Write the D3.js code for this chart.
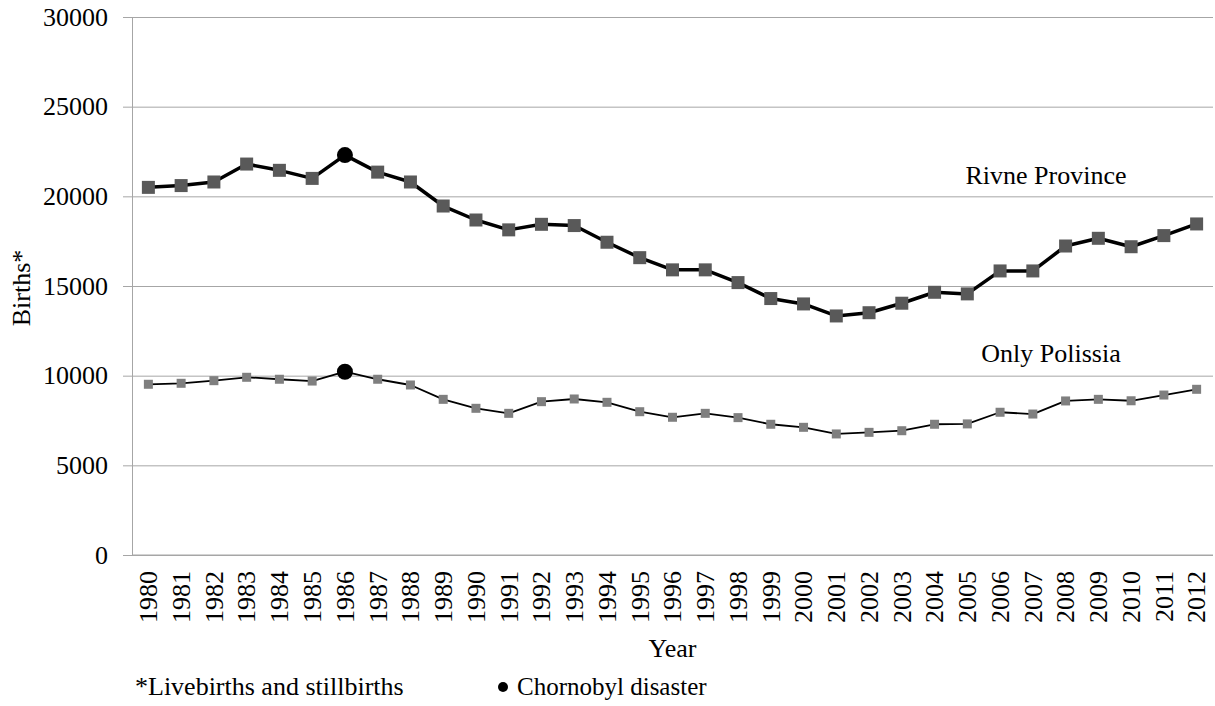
<!DOCTYPE html>
<html>
<head>
<meta charset="utf-8">
<script src="https://cdn.jsdelivr.net/npm/d3@7"></script>
<style>
    body { margin: 0; background: #fff; }
    svg text { font-family: "Liberation Serif", "Times New Roman", "DejaVu Serif", serif; }
</style>
</head>
<body>
<div id="chart"></div>
<script>
// data
const years = d3.range(1980, 2013).map(String)
const rivne = [20500, 20600, 20800, 21800, 21450, 21000, 22300, 21350, 20800, 19460,
    18680, 18130, 18440, 18370, 17440, 16580, 15900, 15900, 15190, 14300,
    14000, 13330, 13510, 14040, 14650, 14560, 15840, 15840, 17230, 17660,
    17190, 17810, 18460]
const polissia = [9520, 9575, 9720, 9910, 9800, 9700, 10220, 9800, 9480, 8680,
    8180, 7900, 8550, 8700, 8515, 7990, 7680, 7900, 7660, 7290,
    7120, 6750, 6840, 6930, 7290, 7310, 7960, 7860, 8590, 8680,
    8600, 8920, 9240]
const yTicks = [0, 5000, 10000, 15000, 20000, 25000, 30000]
const disasterYear = '1986'

const width = 1215
const height = 706
const margin = { top: 17, right: 2, bottom: 151, left: 132 }
const gridColor = '#a6a6a6'
const serif = '"Liberation Serif", "Times New Roman", serif'
const fontSize = 26

const svg = d3.select('#chart')
    .append('svg')
    .attr('width', width)
    .attr('height', height)
    .attr('font-family', serif)

// scales
const x = d3.scaleBand()
    .domain(years)
    .range([margin.left, width - margin.right])

const y = d3.scaleLinear()
    .domain([0, 30000])
    .range([height - margin.bottom, margin.top])

const cx = (d) => x(d) + x.bandwidth() / 2

// gridlines + y axis
const yAxis = d3.axisLeft(y)
    .tickValues(yTicks)
    .tickFormat(d3.format('d'))
    .tickSize(-(width - margin.right - margin.left))
    .tickSizeOuter(0)

svg.append('g')
    .attr('transform', `translate(${margin.left},0)`)
    .call(yAxis)
    .attr('font-family', serif)
    .attr('font-size', fontSize)
    .call((g) => g.select('.domain').attr('stroke', gridColor))
    .call((g) => g.selectAll('.tick line')
        .attr('stroke', gridColor)
        .attr('x1', -9))
    .call((g) => g.selectAll('.tick text')
        .attr('x', -24)
        .attr('fill', '#000'))

// x axis line and rotated year labels
svg.append('line')
    .attr('x1', margin.left)
    .attr('x2', width - margin.right)
    .attr('y1', y(0))
    .attr('y2', y(0))
    .attr('stroke', gridColor)

svg.append('g')
    .attr('font-size', fontSize)
    .selectAll('text')
    .data(years)
    .enter()
    .append('text')
    .attr('transform', (d) => `translate(${cx(d)},${y(0) + 16}) rotate(-90)`)
    .attr('text-anchor', 'end')
    .attr('dy', '0.34em')
    .text((d) => d)

// series
function drawSeries(values, lineWidth, size, fill) {
    const line = d3.line()
        .x((d, i) => cx(years[i]))
        .y((d) => y(d))

    svg.append('path')
        .datum(values)
        .attr('fill', 'none')
        .attr('stroke', '#000')
        .attr('stroke-width', lineWidth)
        .attr('stroke-linejoin', 'round')
        .attr('d', line)

    const pts = values.map((v, i) => ({ year: years[i], v }))

    svg.append('g')
        .selectAll('rect')
        .data(pts.filter((d) => d.year !== disasterYear))
        .enter()
        .append('rect')
        .attr('x', (d) => cx(d.year) - size / 2)
        .attr('y', (d) => y(d.v) - size / 2)
        .attr('width', size)
        .attr('height', size)
        .attr('fill', fill)

    // the 1986 point is the Chornobyl marker
    svg.append('g')
        .selectAll('circle')
        .data(pts.filter((d) => d.year === disasterYear))
        .enter()
        .append('circle')
        .attr('cx', (d) => cx(d.year))
        .attr('cy', (d) => y(d.v))
        .attr('r', 8)
        .attr('fill', '#000')
}

drawSeries(rivne, 3.5, 13, '#595959')
drawSeries(polissia, 1.8, 9, '#7f7f7f')

// labels
const labels = svg.append('g').attr('font-size', fontSize)

labels.append('text')
    .attr('x', 1046)
    .attr('y', 184)
    .attr('text-anchor', 'middle')
    .text('Rivne Province')

labels.append('text')
    .attr('x', 1051)
    .attr('y', 362)
    .attr('text-anchor', 'middle')
    .text('Only Polissia')

labels.append('text')
    .attr('transform', 'translate(30,288) rotate(-90)')
    .attr('text-anchor', 'middle')
    .text('Births*')

labels.append('text')
    .attr('x', (margin.left + width - margin.right) / 2)
    .attr('y', 657)
    .attr('text-anchor', 'middle')
    .text('Year')

// footnotes
labels.append('text')
    .attr('x', 135)
    .attr('y', 695)
    .text('*Livebirths and stillbirths')

svg.append('circle')
    .attr('cx', 503)
    .attr('cy', 687)
    .attr('r', 5)
    .attr('fill', '#000')

labels.append('text')
    .attr('x', 517)
    .attr('y', 695)
    .attr('font-size', 25)
    .text('Chornobyl disaster')
</script>
</body>
</html>
